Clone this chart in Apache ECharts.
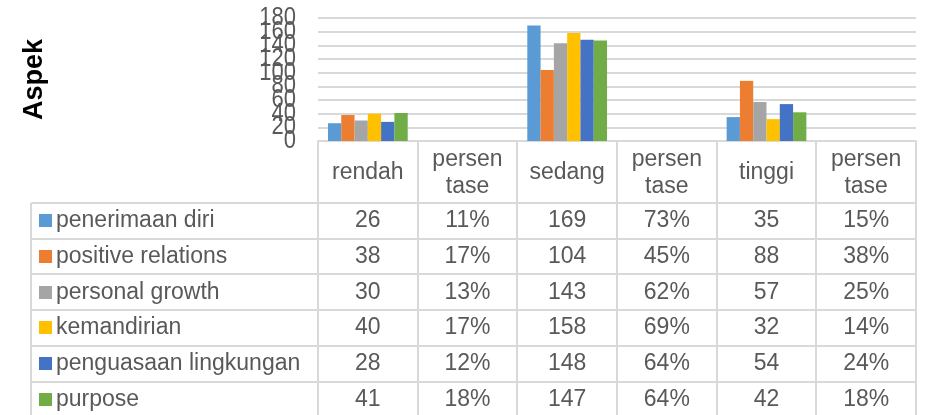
<!DOCTYPE html>
<html>
<head>
<meta charset="utf-8">
<script src="https://cdn.jsdelivr.net/npm/echarts@6/dist/echarts.min.js"></script>
<style>
  html, body { margin: 0; padding: 0; background: #fff; }
  #main { width: 925px; height: 415px; }
</style>
</head>
<body>
<div id="main"></div>
<script>
// kolom tabel (kategori sumbu x)
const categories = ['rendah', 'persen\ntase', 'sedang', 'persen\ntase', 'tinggi', 'persen\ntase'];
// aspek (seri)
const aspek = ['penerimaan diri', 'positive relations', 'personal growth', 'kemandirian', 'penguasaan lingkungan', 'purpose'];
const colors = ['#5B9BD5', '#ED7D31', '#A5A5A5', '#FFC000', '#4472C4', '#70AD47'];

// jumlah per aspek
const rendah = [26, 38, 30, 40, 28, 41];
const sedang = [169, 104, 143, 158, 148, 147];
const tinggi = [35, 88, 57, 32, 54, 42];
// persentase per aspek
const persenRendah = ['11%', '17%', '13%', '17%', '12%', '18%'];
const persenSedang = ['73%', '45%', '62%', '69%', '64%', '64%'];
const persenTinggi = ['15%', '38%', '25%', '14%', '24%', '18%'];

// label sumbu y
const yTicks = [0, 20, 40, 60, 80, 100, 120, 140, 160, 180];

const chart = echarts.init(document.getElementById('main'));

// isi tabel per baris, urutan kolom sama dengan categories
function rowCells(i) {
  return [rendah[i], persenRendah[i], sedang[i], persenSedang[i], tinggi[i], persenTinggi[i]];
}

const series = aspek.map(function (name, i) {
  return {
    name: name,
    type: 'bar',
    barGap: '0%',
    barCategoryGap: '20%',
    itemStyle: { color: colors[i] },
    // kolom persen tidak digambar
    data: [rendah[i], '-', sedang[i], '-', tinggi[i], '-']
  };
});

const grid = { left: 318, right: 9, top: 18, bottom: 274 };
const textColor = '#595959';
const lineColor = '#d9d9d9';
const font = 'Liberation Sans, Arial, sans-serif';
const fs = 23;

chart.setOption({
  animation: false,
  grid: grid,
  xAxis: {
    type: 'category',
    data: categories,
    axisLine: { show: true, lineStyle: { color: lineColor, width: 2 } },
    axisTick: { show: false },
    axisLabel: {
      color: textColor, fontSize: fs, fontFamily: font,
      lineHeight: 27, verticalAlign: 'middle', margin: 32, interval: 0
    }
  },
  yAxis: {
    type: 'value',
    min: 0, max: 180, interval: 20,
    name: 'Aspek',
    nameLocation: 'middle',
    nameRotate: 90,
    nameGap: 270,
    nameTextStyle: { color: '#000', fontSize: 27, fontWeight: 'bold', fontFamily: font },
    axisLine: { show: false },
    axisTick: { show: false },
    // label digambar sendiri di bawah, karena saling tumpang tindih
    axisLabel: { show: false },
    splitLine: { lineStyle: { color: lineColor, width: 2 } }
  },
  series: series
});

// tabel data di bawah grafik
const rowTop = 203;
const rowH = 35.7;
const tableLeft = 31;
const plotLeft = grid.left;
const plotRight = 925 - grid.right;
const headTop = 415 - grid.bottom;
const colW = (plotRight - plotLeft) / categories.length;
const els = [];

// label sumbu y (boleh bertumpuk seperti aslinya, agak memanjang)
yTicks.forEach(function (v) {
  const y = chart.convertToPixel({ yAxisIndex: 0 }, v);
  els.push({ type: 'text', x: plotLeft - 22, y: y, scaleY: 1.15,
    style: { text: String(v), fill: textColor, font: '22px ' + font, verticalAlign: 'middle', align: 'right' } });
});

// garis horizontal
for (let r = 0; r <= aspek.length; r++) {
  const y = Math.round(rowTop + r * rowH);
  els.push({ type: 'line', shape: { x1: tableLeft, y1: y, x2: plotRight, y2: y },
    style: { stroke: lineColor, lineWidth: 2 } });
}
// garis vertikal
els.push({ type: 'line', shape: { x1: tableLeft, y1: rowTop, x2: tableLeft, y2: 415 },
  style: { stroke: lineColor, lineWidth: 2 } });
for (let c = 0; c <= categories.length; c++) {
  const x = Math.round(plotLeft + c * colW);
  els.push({ type: 'line', shape: { x1: x, y1: headTop, x2: x, y2: 415 },
    style: { stroke: lineColor, lineWidth: 2 } });
}

aspek.forEach(function (name, i) {
  const cy = rowTop + i * rowH + rowH / 2;
  // kunci legenda
  els.push({ type: 'rect', shape: { x: 39, y: Math.round(cy - 6.5), width: 13, height: 13 },
    style: { fill: colors[i] } });
  els.push({ type: 'text', x: 56, y: cy,
    style: { text: name, fill: textColor, font: fs + 'px ' + font, verticalAlign: 'middle', align: 'left' } });
  rowCells(i).forEach(function (v, c) {
    const cx = chart.convertToPixel({ xAxisIndex: 0 }, c);
    els.push({ type: 'text', x: cx, y: cy,
      style: { text: String(v), fill: textColor, font: fs + 'px ' + font, verticalAlign: 'middle', align: 'center' } });
  });
});

chart.setOption({ graphic: { elements: els } });
</script>
</body>
</html>
